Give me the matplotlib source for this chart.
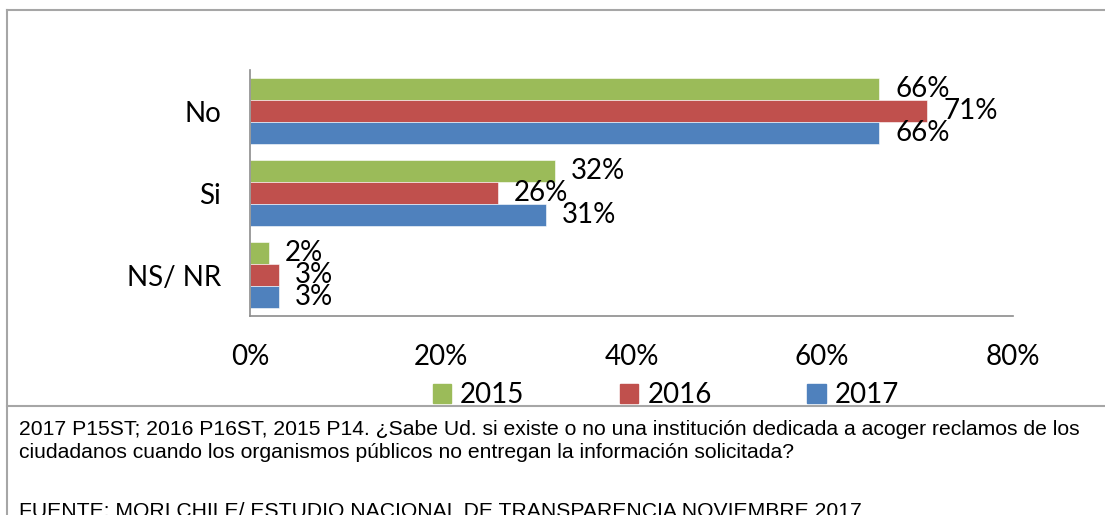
import numpy as np
import matplotlib
matplotlib.use("Agg")
import matplotlib.pyplot as plt
from matplotlib.lines import Line2D

categories = ["No", "Si", "NS/ NR"]
years = ["2015", "2016", "2017"]
values = {
    "2015": [66, 32, 2],
    "2016": [71, 26, 3],
    "2017": [66, 31, 3],
}
colors = {"2015": "#9BBB59", "2016": "#C0504D", "2017": "#4F81BD"}
xticks = [0, 20, 40, 60, 80]

W, H = 1105, 515
fig = plt.figure(figsize=(W / 100, H / 100), dpi=100)
fig.patch.set_facecolor("white")

def px(x0, y0, x1, y1):
    return [x0 / W, 1 - y1 / H, (x1 - x0) / W, (y1 - y0) / H]

ax = fig.add_axes(px(250, 70, 1013, 316))
label_font = "Lato"
fs = 20

bar_h = 0.268
ypos = np.arange(len(categories))
for i, yr in enumerate(years):
    off = (i - 1) * bar_h
    ax.barh(ypos + off, values[yr], height=bar_h, color=colors[yr],
            edgecolor="white", linewidth=0.4, label=yr)
    for y, v in zip(ypos + off, values[yr]):
        ax.annotate(f"{v}%", (v, y), xytext=(16, 0), textcoords="offset pixels",
                    ha="left", va="center", fontsize=fs, family=label_font)

ax.set_xlim(0, 80)
ax.set_ylim(len(categories) - 0.5, -0.5)
ax.set_xticks(xticks)
ax.set_xticklabels([f"{t}%" for t in xticks], fontsize=fs, family=label_font)
ax.set_yticks(ypos)
ax.set_yticklabels(categories, fontsize=fs, family=label_font)
ax.tick_params(length=0)
ax.tick_params(axis="x", pad=20)
ax.tick_params(axis="y", pad=21)
for s in ["top", "right"]:
    ax.spines[s].set_visible(False)
for s in ["left", "bottom"]:
    ax.spines[s].set_color("#8c8c8c")
    ax.spines[s].set_linewidth(1.2)

handles = [plt.Rectangle((0, 0), 1, 1, color=colors[y]) for y in years]
fig.legend(handles, years, loc="center", bbox_to_anchor=(666 / W, 1 - 395 / H),
           ncol=3, frameon=False, prop={"family": label_font, "size": fs},
           handlelength=0.65, handleheight=0.65, handletextpad=0.32,
           columnspacing=3.45, borderpad=0, borderaxespad=0)

# frame lines
fig.add_artist(Line2D([6.5 / W, 1], [1 - 10 / H, 1 - 10 / H], color="#a6a6a6", lw=1.5))
fig.add_artist(Line2D([6.5 / W, 6.5 / W], [0, 1 - 10 / H], color="#a6a6a6", lw=1.5))
fig.add_artist(Line2D([6.5 / W, 1], [1 - 406 / H, 1 - 406 / H], color="#a6a6a6", lw=1.5))

note = ("2017 P15ST; 2016 P16ST, 2015 P14. ¿Sabe Ud. si existe o no una institución dedicada a acoger reclamos de los\n"
        "ciudadanos cuando los organismos públicos no entregan la información solicitada?")
fig.text(19 / W, 1 - 420 / H, note, ha="left", va="top", fontsize=15.2,
         family="Liberation Sans", linespacing=1.3)
fig.text(19 / W, 1 - 502 / H, "FUENTE: MORI CHILE/ ESTUDIO NACIONAL DE TRANSPARENCIA NOVIEMBRE 2017",
         ha="left", va="top", fontsize=15.2, family="Liberation Sans")

fig.savefig("out.png", dpi=100)
